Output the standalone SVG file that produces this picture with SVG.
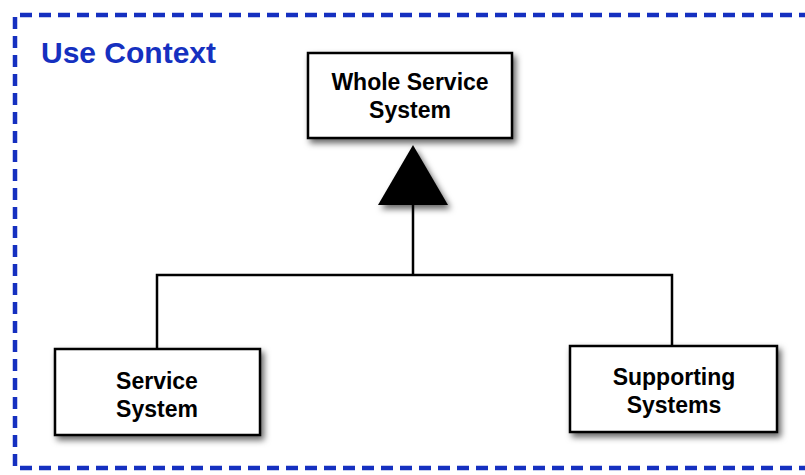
<svg xmlns="http://www.w3.org/2000/svg" width="805" height="475" viewBox="0 0 805 475">
  <defs>
    <filter id="shadow" x="-20%" y="-20%" width="140%" height="150%">
      <feDropShadow dx="3" dy="4" stdDeviation="3" flood-color="#000" flood-opacity="0.6"/>
    </filter>
  </defs>
  <style>
    .frame { fill: none; stroke: #1530c0; stroke-width: 4.5; stroke-dasharray: 12 7; stroke-linecap: butt; }
    .title { font-family: "Liberation Sans", Arial, sans-serif; font-weight: bold; font-size: 30px; fill: #1530c0; }
    .box { fill: #fff; stroke: #000; stroke-width: 2.5; filter: url(#shadow); }
    .label { font-family: "Liberation Sans", Arial, sans-serif; font-weight: bold; font-size: 23px; fill: #000; text-anchor: middle; }
    .wire { fill: none; stroke: #000; stroke-width: 2.5; }
    .head { fill: #000; filter: url(#shadow); }
  </style>
  <rect width="805" height="475" fill="#fff"/>

  <!-- context frame (right side runs off the canvas) -->
  <path class="frame" d="M 830 15 L 15 15 L 15 468 L 830 468"/>
  <text class="title" x="41" y="63">Use Context</text>

  <!-- connectors -->
  <g id="connectors">
    <path class="wire" d="M 413 205 L 413 275 M 157 349 L 157 275 L 672 275 L 672 346"/>
    <polygon class="head" points="413,145 378,205 448,205"/>
  </g>

  <g id="whole-service-system">
    <rect class="box" x="308" y="53" width="204" height="85"/>
    <text class="label" x="410" y="90">Whole Service</text>
    <text class="label" x="410" y="118">System</text>
  </g>

  <g id="service-system">
    <rect class="box" x="55" y="349" width="205" height="86"/>
    <text class="label" x="157" y="389">Service</text>
    <text class="label" x="157" y="417">System</text>
  </g>

  <g id="supporting-systems">
    <rect class="box" x="570" y="346" width="207" height="86"/>
    <text class="label" x="674" y="385">Supporting</text>
    <text class="label" x="674" y="413">Systems</text>
  </g>
</svg>
